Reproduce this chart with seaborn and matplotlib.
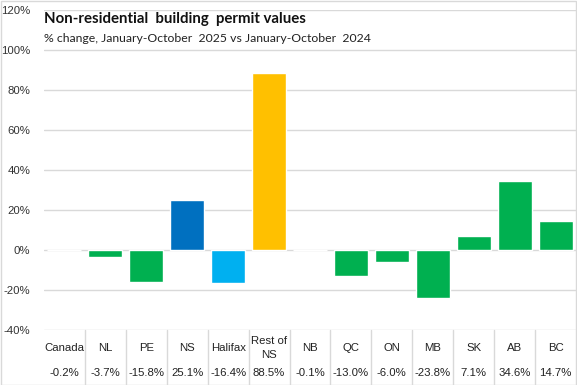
import matplotlib
matplotlib.use("Agg")
import matplotlib.pyplot as plt
import seaborn as sns
from matplotlib.patches import Rectangle

# chart data
regions = ["Canada", "NL", "PE", "NS", "Halifax", "Rest of\nNS", "NB",
           "QC", "ON", "MB", "SK", "AB", "BC"]
pct_change = [-0.2, -3.7, -15.8, 25.1, -16.4, 88.5, -0.1,
              -13.0, -6.0, -23.8, 7.1, 34.6, 14.7]
value_labels = ["-0.2%", "-3.7%", "-15.8%", "25.1%", "-16.4%", "88.5%", "-0.1%",
                "-13.0%", "-6.0%", "-23.8%", "7.1%", "34.6%", "14.7%"]
yticks = [-40, -20, 0, 20, 40, 60, 80, 100, 120]

GREEN = "#00B050"
bar_colors = [GREEN, GREEN, GREEN, "#0070C0", "#00B0F0", "#FFC000", GREEN,
              GREEN, GREEN, GREEN, GREEN, GREEN, GREEN]

sns.set_style("white")
plt.rcParams["font.family"] = ["Liberation Sans", "DejaVu Sans"]

fig = plt.figure(figsize=(5.77, 3.85), dpi=100)
ax = fig.add_axes([44 / 577, 1 - 330 / 385, 532 / 577, 320 / 385])

sns.barplot(x=list(range(len(regions))), y=pct_change, hue=list(range(len(regions))),
            palette=bar_colors, legend=False, width=0.83, ax=ax, zorder=3,
            saturation=1)

ax.set_xlim(-0.5, len(regions) - 0.5)
ax.set_ylim(-40, 120)
ax.set_yticks(yticks)
ax.set_yticklabels([f"{t}%" for t in yticks], fontsize=8.2, color="#333333")
ax.tick_params(axis="y", length=0, pad=10)
ax.set_xticks([])
ax.set_xlabel("")
ax.set_ylabel("")
ax.grid(axis="y", color="#D9D9D9", linewidth=1, zorder=0)
for s in ax.spines.values():
    s.set_visible(False)

# data table under the plot
xt = ax.get_xaxis_transform()
for i, (name, lab) in enumerate(zip(regions, value_labels)):
    ax.text(i, -0.056, name, transform=xt, ha="center", va="center",
            fontsize=8.2, color="#222222", linespacing=1.4)
    ax.text(i, -0.134, lab, transform=xt, ha="center", va="center",
            fontsize=8.2, color="#222222")
for i in range(len(regions) - 1):
    ax.plot([i + 0.5, i + 0.5], [0, -0.19], transform=xt, color="#D9D9D9",
            linewidth=1, clip_on=False)

# titles
fig.text(44 / 577, 1 - 23 / 385, "Non-residential  building  permit values",
         fontsize=10.8, fontweight="bold", family=["Lato", "DejaVu Sans"],
         color="#111111")
fig.text(44 / 577, 1 - 42 / 385, "% change, January-October  2025 vs January-October  2024",
         fontsize=8.8, family=["Lato", "DejaVu Sans"], color="#222222")

# outer border
fig.patches.append(Rectangle((0.001, 0.001), 0.997, 0.997, transform=fig.transFigure,
                             fill=False, edgecolor="#D9D9D9", linewidth=1))

fig.savefig("out.png", dpi=100)
